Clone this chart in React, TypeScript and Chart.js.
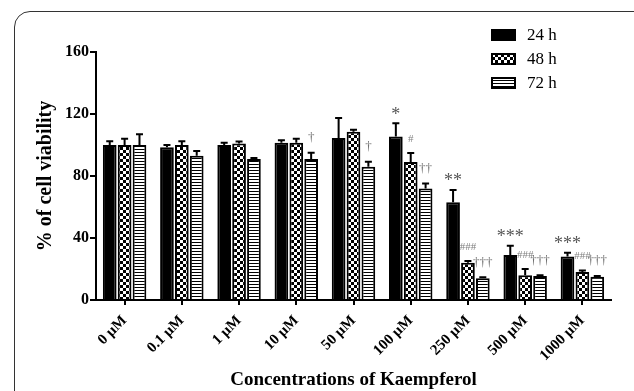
import React, { useEffect, useRef } from 'react';
import { Chart, registerables } from 'chart.js';

Chart.register(...registerables);

const categories = ['0 µM', '0.1 µM', '1 µM', '10 µM', '50 µM', '100 µM', '250 µM', '500 µM', '1000 µM'];
const seriesLabels = ['24 h', '48 h', '72 h'];

const values24 = [100, 98.5, 100, 101.5, 104.5, 105.5, 63, 29, 28];
const values48 = [100, 100, 101, 101.5, 108.5, 89, 24, 16, 18];
const values72 = [100, 93, 91, 91, 86, 72, 14, 15.5, 15];

const errors24 = [2.5, 1.5, 1.5, 1.5, 13, 8.5, 8, 6, 2.5];
const errors48 = [4, 2.5, 1.2, 2.5, 1.3, 5.8, 1.2, 4, 1];
const errors72 = [7, 3.2, 0.6, 4, 3.2, 3.2, 0.6, 0.5, 0.5];

const sig24 = ['', '', '', '', '', '*', '**', '***', '***'];
const sig48 = ['', '', '', '', '', '#', '###', '###', '###'];
const sig72 = ['', '', '', '†', '†', '††', '†††', '†††', '†††'];

const yTicks = [0, 40, 80, 120, 160];

const SERIF = "'Liberation Serif', 'Times New Roman', Times, serif";

function makeChecker(ctx: CanvasRenderingContext2D) {
  const c = document.createElement('canvas');
  c.width = 6;
  c.height = 6;
  const g = c.getContext('2d')!;
  g.fillStyle = '#000';
  g.fillRect(0, 0, 6, 6);
  g.fillStyle = '#fff';
  g.fillRect(0, 0, 3, 3);
  g.fillRect(3, 3, 3, 3);
  return ctx.createPattern(c, 'repeat')!;
}

function makeStripes(ctx: CanvasRenderingContext2D) {
  const c = document.createElement('canvas');
  c.width = 4;
  c.height = 3;
  const g = c.getContext('2d')!;
  g.fillStyle = '#fff';
  g.fillRect(0, 0, 4, 3);
  g.fillStyle = '#000';
  g.fillRect(0, 2, 4, 1);
  return ctx.createPattern(c, 'repeat')!;
}

const errorsAll = [errors24, errors48, errors72];
const sigAll = [sig24, sig48, sig72];

const errorBarPlugin = {
  id: 'errorBarsAndMarks',
  afterDatasetsDraw(chart: any) {
    const ctx: CanvasRenderingContext2D = chart.ctx;
    const yScale = chart.scales.y;
    const sigStyle = [
      { font: `18px ${SERIF}`, color: '#555', offset: 8.5 },
      { font: `11px ${SERIF}`, color: '#808080', offset: 14 },
      { font: `13px ${SERIF}`, color: '#707070', offset: 15 },
    ];
    chart.data.datasets.forEach((ds: any, i: number) => {
      const meta = chart.getDatasetMeta(i);
      meta.data.forEach((bar: any, j: number) => {
        const v = ds.data[j] as number;
        const e = errorsAll[i][j];
        const top = yScale.getPixelForValue(v + e);
        const x = bar.x;
        ctx.save();
        ctx.strokeStyle = '#000';
        ctx.lineWidth = 2;
        ctx.beginPath();
        ctx.moveTo(x, bar.y);
        ctx.lineTo(x, top);
        ctx.moveTo(x - 3.5, top);
        ctx.lineTo(x + 3.5, top);
        ctx.stroke();
        const s = sigAll[i][j];
        if (s) {
          const st = sigStyle[i];
          ctx.font = st.font;
          ctx.fillStyle = st.color;
          ctx.textAlign = 'center';
          ctx.textBaseline = 'middle';
          ctx.fillText(s, x, top - st.offset);
        }
        ctx.restore();
      });
    });
  },
};

const legendPlugin = {
  id: 'cornerLegend',
  afterDraw(chart: any) {
    const ctx: CanvasRenderingContext2D = chart.ctx;
    const x = chart.chartArea.right - 120;
    const y0 = 35;
    const step = 24;
    chart.data.datasets.forEach((ds: any, i: number) => {
      const yc = y0 + i * step;
      ctx.save();
      ctx.fillStyle = ds.backgroundColor;
      ctx.fillRect(x, yc - 6, 25, 12);
      ctx.strokeStyle = '#000';
      ctx.lineWidth = 2;
      ctx.strokeRect(x + 1, yc - 5, 23, 10);
      ctx.fillStyle = '#000';
      ctx.font = `17px ${SERIF}`;
      ctx.textAlign = 'left';
      ctx.textBaseline = 'middle';
      ctx.fillText(ds.label, x + 36, yc + 1);
      ctx.restore();
    });
  },
};

export default function App() {
  const ref = useRef<HTMLCanvasElement | null>(null);

  useEffect(() => {
    const canvas = ref.current!;
    const ctx = canvas.getContext('2d')!;
    const checker = makeChecker(ctx);
    const stripes = makeStripes(ctx);
    const fills = ['#000', checker, stripes];
    const valuesAll = [values24, values48, values72];

    const chart = new Chart(canvas, {
      type: 'bar',
      data: {
        labels: categories,
        datasets: seriesLabels.map((label, i) => ({
          label,
          data: valuesAll[i],
          backgroundColor: fills[i] as any,
          borderColor: '#000',
          borderWidth: 2,
          categoryPercentage: 0.78,
          barPercentage: 0.92,
        })),
      },
      options: {
        responsive: false,
        animation: false,
        devicePixelRatio: 1,
        layout: { padding: { left: 0, right: 23, top: 52, bottom: 0 } },
        plugins: {
          legend: { display: false },
          tooltip: { enabled: false },
        },
        scales: {
          x: {
            offset: true,
            grid: {
              display: true,
              drawOnChartArea: false,
              drawTicks: true,
              tickLength: 5,
              offset: false,
              color: '#000',
              lineWidth: 2,
            },
            border: { display: true, color: '#000', width: 2 },
            ticks: {
              color: '#000',
              font: { family: SERIF, size: 15, weight: 'bold' },
              minRotation: 45,
              maxRotation: 45,
              padding: 7,
              autoSkip: false,
            },
            title: {
              display: true,
              text: 'Concentrations of Kaempferol',
              color: '#000',
              font: { family: SERIF, size: 19, weight: 'bold' },
              padding: { top: 0, bottom: 0 },
            },
            afterFit: (scale: any) => {
              scale.height = 91;
            },
          },
          y: {
            min: 0,
            max: 160,
            afterBuildTicks: (scale: any) => {
              scale.ticks = yTicks.map((v) => ({ value: v }));
            },
            grid: {
              display: true,
              drawOnChartArea: false,
              drawTicks: true,
              tickLength: 6,
              color: '#000',
              lineWidth: 2,
            },
            border: { display: true, color: '#000', width: 2 },
            ticks: {
              color: '#000',
              font: { family: SERIF, size: 16, weight: 'bold' },
              padding: 1,
            },
            title: {
              display: true,
              text: '% of cell viability',
              color: '#000',
              font: { family: SERIF, size: 20, weight: 'bold' },
              padding: { top: 34, bottom: 0 },
            },
            afterFit: (scale: any) => {
              scale.width = 96;
            },
          },
        },
      },
      plugins: [errorBarPlugin, legendPlugin],
    });

    return () => chart.destroy();
  }, []);

  return (
    <div
      style={{
        position: 'fixed',
        left: 0,
        top: 0,
        width: 634,
        height: 391,
        background: '#fff',
        overflow: 'hidden',
      }}
    >
      <div
        style={{
          position: 'absolute',
          left: 14,
          top: 11,
          width: 640,
          height: 430,
          border: '1.5px solid #333',
          borderRadius: 16,
          boxSizing: 'border-box',
        }}
      />
      <canvas
        ref={ref}
        width={634}
        height={391}
        style={{ position: 'absolute', left: 0, top: 0, display: 'block' }}
      />
    </div>
  );
}
